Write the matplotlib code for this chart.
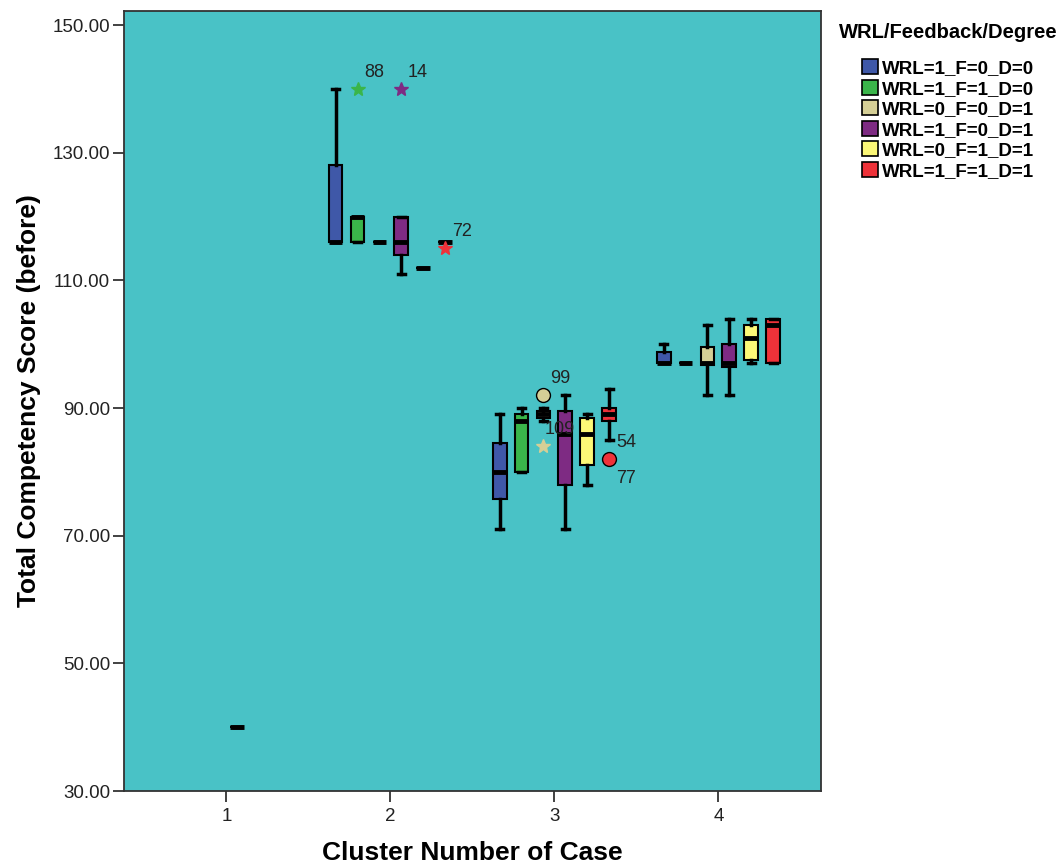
import matplotlib
matplotlib.use("Agg")
import matplotlib.pyplot as plt
from matplotlib.patches import Patch

plt.rcParams['font.family'] = ['Liberation Sans', 'DejaVu Sans']

clusters = [1, 2, 3, 4]
groups = ['WRL=1_F=0_D=0', 'WRL=1_F=1_D=0', 'WRL=0_F=0_D=1',
          'WRL=1_F=0_D=1', 'WRL=0_F=1_D=1', 'WRL=1_F=1_D=1']
colors = ['#3F58A8', '#3AB54A', '#D5CF96', '#7E2B83', '#FCF877', '#EE3239']

# box stats per group, one value per cluster (None = no cases)
whislo = [[None, 116, 71, 97], [None, 116, 80, 97], [None, 116, 88, 92],
          [40, 111, 71, 92], [None, 112, 78, 97], [None, 116, 85, 97]]
q1 = [[None, 116, 75.75, 97], [None, 116, 80, 97], [None, 116, 88.5, 96.75],
      [40, 114, 78, 96.5], [None, 112, 81, 97.5], [None, 116, 88, 97]]
med = [[None, 116, 80, 97], [None, 120, 88, 97], [None, 116, 89, 97],
       [40, 116, 86, 97], [None, 112, 86, 101], [None, 116, 89, 103]]
q3 = [[None, 128, 84.5, 98.75], [None, 120, 89, 97], [None, 116, 89.5, 99.5],
      [40, 120, 89.5, 100], [None, 112, 88.5, 103], [None, 116, 90, 104]]
whishi = [[None, 140, 89, 100], [None, 120, 90, 97], [None, 116, 90, 103],
          [40, 120, 92, 104], [None, 112, 89, 104], [None, 116, 93, 104]]

# outliers: cluster, group index, value, marker, case labels
out_cluster = [2, 2, 2, 3, 3, 3]
out_group = [1, 3, 5, 2, 2, 5]
out_value = [140, 140, 115, 92, 84, 82]
out_marker = ['*', '*', '*', 'o', '*', 'o']
out_labels = [['88'], ['14'], ['72'], ['99'], ['109'], ['54', '77']]

step = 0.134
width = 0.085

fig = plt.figure(figsize=(10.64, 8.68), dpi=100)
ax = fig.add_axes([0.1165, 0.0887, 0.6551, 0.8986])
ax.set_facecolor('#49C2C6')

for g in range(len(groups)):
    stats = []
    pos = []
    for c in range(len(clusters)):
        if med[g][c] is None:
            continue
        stats.append(dict(whislo=whislo[g][c], q1=q1[g][c], med=med[g][c],
                          q3=q3[g][c], whishi=whishi[g][c], fliers=[]))
        pos.append(clusters[c] + (g - 2.5) * step)
    ax.bxp(stats, positions=pos, widths=width, patch_artist=True,
           showfliers=False, manage_ticks=False,
           boxprops=dict(facecolor=colors[g], edgecolor='black', linewidth=1.5),
           medianprops=dict(color='black', linewidth=3.5),
           whiskerprops=dict(color='black', linewidth=2.5),
           capprops=dict(color='black', linewidth=2.5),
           capwidths=width * 0.45)

for c, g, v, m, labs in zip(out_cluster, out_group, out_value, out_marker, out_labels):
    x = c + (g - 2.5) * step
    if m == '*':
        ax.plot(x, v, marker='*', markersize=10, color=colors[g],
                markeredgecolor=colors[g], linestyle='none', zorder=5)
    else:
        ax.plot(x, v, marker='o', markersize=10, color=colors[g],
                markeredgecolor='black', markeredgewidth=1, linestyle='none', zorder=5)
    ax.annotate(labs[0], (x, v), xytext=(12, 12), textcoords='offset points',
                ha='center', va='center', fontsize=13, color='#222222')
    if len(labs) > 1:
        ax.annotate(labs[1], (x, v), xytext=(12, -14), textcoords='offset points',
                    ha='center', va='center', fontsize=13, color='#222222')

ax.set_xlim(0.375, 4.625)
ax.set_ylim(30, 152.2)
ax.set_xticks(clusters)
ax.set_xticklabels([str(c) for c in clusters])
ax.set_yticks([30, 50, 70, 90, 110, 130, 150])
ax.set_yticklabels(['30.00', '50.00', '70.00', '90.00', '110.00', '130.00', '150.00'])
ax.tick_params(axis='both', length=8, width=1.3, labelsize=13.5, colors='#333333',
               labelcolor='#222222', pad=2)
ax.tick_params(axis='x', pad=4)
for s in ax.spines.values():
    s.set_color('#333333')
    s.set_linewidth(1.3)

ax.set_xlabel('Cluster Number of Case', fontsize=19, fontweight='bold', labelpad=12)
ax.set_ylabel('Total Competency Score (before)', fontsize=19, fontweight='bold',
              labelpad=8)

handles = [Patch(facecolor=colors[i], edgecolor='black', linewidth=1.2, label=groups[i])
           for i in range(len(groups))]
fig.text(948 / 1064, 1 - 33 / 868, 'WRL/Feedback/Degree', ha='center', va='center',
         fontsize=14.5, fontweight='bold')
leg = fig.legend(handles=handles, loc='upper left',
                 bbox_to_anchor=(862 / 1064, 1 - 59 / 868), frameon=False,
                 prop=dict(weight='bold', size=13.5), borderpad=0, borderaxespad=0,
                 handlelength=0.85, handleheight=0.85, handletextpad=0.2,
                 labelspacing=0.14)

fig.savefig('out.png', dpi=100)
